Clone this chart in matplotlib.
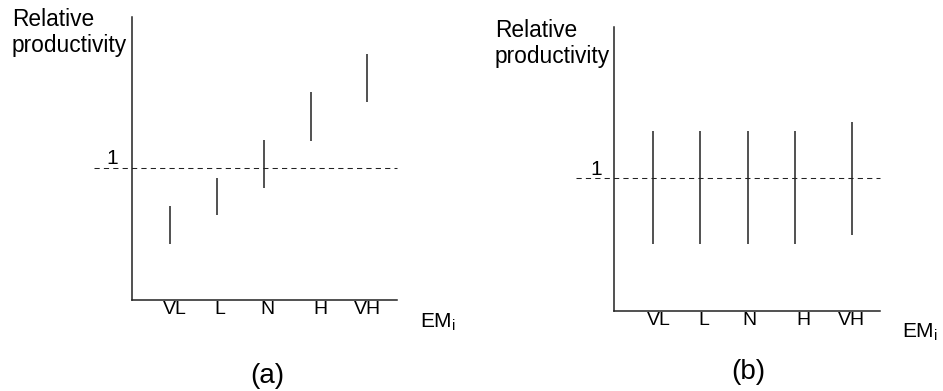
import matplotlib
matplotlib.use("Agg")
import matplotlib.pyplot as plt
from matplotlib.transforms import Affine2D

plt.rcParams["font.family"] = ["Liberation Sans", "DejaVu Sans"]
plt.rcParams["mathtext.fontset"] = "custom"
plt.rcParams["mathtext.rm"] = "Liberation Sans"
plt.rcParams["mathtext.it"] = "Liberation Sans"

# Effort-multiplier rating levels
levels = ["VL", "L", "N", "H", "VH"]
x_pos = [1, 2, 3, 4, 5.2]

# (a) relative productivity range per level: rising with rating
a_low = [0.42, 0.64, 0.85, 1.20, 1.50]
a_high = [0.71, 0.92, 1.21, 1.57, 1.86]

# (b) relative productivity range per level: roughly flat around 1
b_low = [0.50, 0.50, 0.50, 0.50, 0.57]
b_high = [1.35, 1.35, 1.35, 1.35, 1.42]

baseline = 1.0

W, H = 943, 391
fig = plt.figure(figsize=(W / 100, H / 100), dpi=100)


def px_rect(left, top, right, bottom):
    return [left / W, 1 - bottom / H, (right - left) / W, (bottom - top) / H]


def panel(rect, lows, highs, ymax, label_dx, xlim, one_offset):
    ax = fig.add_axes(rect)
    ax.set_xlim(*xlim)
    ax.set_ylim(0, ymax)
    for s in ("top", "right"):
        ax.spines[s].set_visible(False)
    for s in ("left", "bottom"):
        ax.spines[s].set_linewidth(1.1)
        ax.spines[s].set_color("#222222")
    ax.set_yticks([])
    ax.set_xticks(x_pos)
    ax.set_xticklabels(levels, fontsize=14)
    ax.tick_params(axis="x", length=0, pad=0.5)
    for lab, dx in zip(ax.get_xticklabels(), label_dx):
        lab.set_transform(lab.get_transform() + Affine2D().translate(dx, 0))
    ax.vlines(x_pos, lows, highs, color="#222222", linewidth=1.1)
    span = ax.get_position().width * W
    ax.axhline(baseline, xmin=-38 / span, xmax=1, clip_on=False,
               color="#222222", linewidth=0.75, linestyle=(0, (5, 4)))
    ax.annotate("1", xy=(0, baseline), xycoords=("axes fraction", "data"),
                xytext=one_offset, textcoords="offset pixels",
                ha="center", va="center", fontsize=15)
    return ax


panel(px_rect(132, 17, 397, 300), a_low, a_high, 2.14,
      [5, 3, 3.5, 9.5, 0.5], (0.19, 5.83), (-20, 9))
panel(px_rect(614, 27, 880, 311), b_low, b_high, 2.135,
      [5.5, 4, 2, 8.5, -0.5], (0.175, 5.80), (-18, 8))

ylabel = "Relative\nproductivity"
fig.text(12 / W, 1 - 8 / H, ylabel, ha="left", va="top",
         fontsize=16.4, linespacing=1.15)
fig.text(495 / W, 1 - 19 / H, ylabel, ha="left", va="top",
         fontsize=16.4, linespacing=1.15)

em = r"EM$_\mathregular{i}$"
fig.text(420 / W, 1 - 322 / H, em, ha="left", va="center", fontsize=15)
fig.text(902 / W, 1 - 332 / H, em, ha="left", va="center", fontsize=15)

fig.text(267 / W, 1 - 376 / H, "(a)", ha="center", va="center", fontsize=20)
fig.text(748 / W, 1 - 372 / H, "(b)", ha="center", va="center", fontsize=20)

fig.savefig("out.png", dpi=100, facecolor="white")
